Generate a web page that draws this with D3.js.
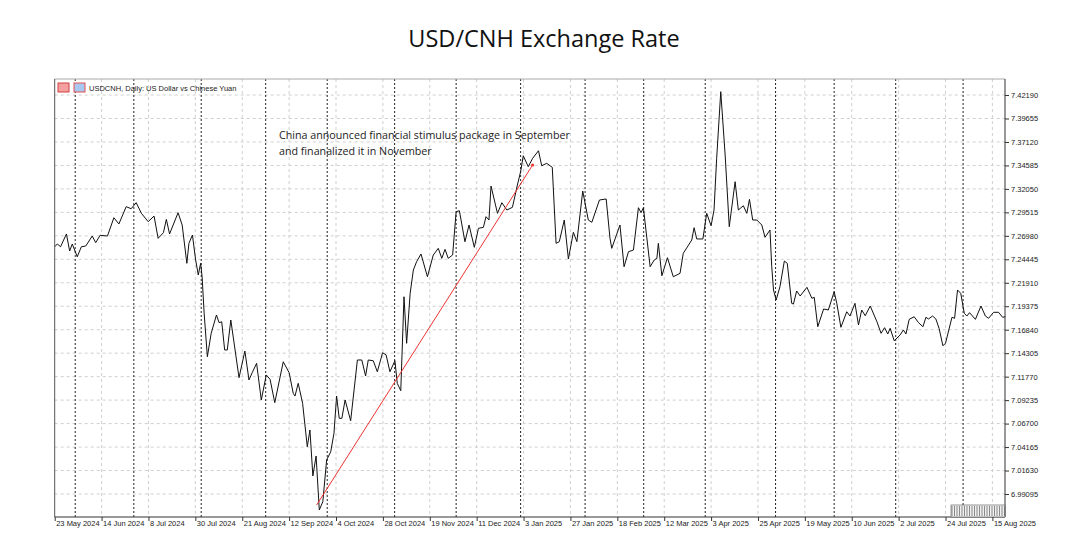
<!DOCTYPE html>
<html><head><meta charset="utf-8">
<script src="https://cdn.jsdelivr.net/npm/d3@7"></script>
<style>body{margin:0;background:#fff}svg{display:block}</style>
</head><body>
<svg id="c" width="1087" height="555"></svg>
<script>
const title = "USD/CNH Exchange Rate";
const symbolLabel = "USDCNH, Daily:  US Dollar vs Chinese Yuan";
const annotation = ["China announced financial stimulus package in September", "and finanalized it in November"];
const yTicks = [7.42190,7.39655,7.37120,7.34585,7.32050,7.29515,7.26980,7.24445,7.21910,7.19375,7.16840,7.14305,7.11770,7.09235,7.06700,7.04165,7.01630,6.99095];
const xTickLabels = ["23 May 2024","14 Jun 2024","8 Jul 2024","30 Jul 2024","21 Aug 2024","12 Sep 2024","4 Oct 2024","28 Oct 2024","19 Nov 2024","11 Dec 2024","3 Jan 2025","27 Jan 2025","18 Feb 2025","12 Mar 2025","3 Apr 2025","25 Apr 2025","19 May 2025","10 Jun 2025","2 Jul 2025","24 Jul 2025","15 Aug 2025"];
const barsPerLabel = 16;
const monthStartBars = [7,27,50,72,93,116,137,159,181,201,222,246,266,287,310];
// bar index (trading days since 23 May 2024) and close price
const bars = [0,0.9,2,4,5.1,6,7.7,9.1,10.6,12.8,14,15.5,18,20.2,21.9,24.4,26.1,27.8,29.6,31.9,33.9,35.3,37.1,38.1,39.2,42.1,43.5,45.1,45.8,47,48.1,49,49.8,50.3,51,52.1,53.4,55.2,56.1,57,58,58.9,60.1,62.9,64.9,66.3,67.4,68.9,70.5,72.2,73.5,75.1,78,80,81.4,82,83.1,84.6,86.2,87.1,88.1,89.2,90.3,91.5,92.8,94.2,95.3,96.2,97.1,98,99.1,101,103.3,104.8,106.1,107,108.7,110.1,111.9,113.1,114.4,116.1,116.9,118.1,119.2,120.1,121.3,122.4,123.5,125,127.2,129.2,130.9,132.1,133.2,134.3,135.8,137,138.1,140,141.4,143.2,144.6,146.3,147.2,148.2,148.9,151.1,152.6,154.3,156.2,157.9,159,159.9,161.6,163.1,165.1,166.2,167.9,169.8,171.1,172.2,173.9,175.3,177,178.2,180.2,182.1,183.3,185.9,188.2,189.5,190.1,192.9,194.3,195.8,197.5,199.2,200.1,200.9,203.2,204.6,205.5,206,207.2,209.1,211.1,213.4,214.5,217.4,218.2,219.1,221.2,222.5,224,225,225.9,227.3,228.8,230.2,232.2,233.3,235,236.2,237.1,238.2,239.6,241.3,242.4,244.1,244.7,245.3,246.2,247.5,249,250,251.5,252.1,253.2,254.4,256.7,258.4,259.2,260.4,262.4,264,266,266.9,268.3,270.3,271.4,273.1,274.3,275.4,276.6,278.3,280.6,282,283.2,284.3,285.1,286.5,288.5,289.6,290.5,291.6,293.3,294.8,296.3,297.3,298.2,299.6,300.7,301.8,303.1,304,306.2,307.1,308.1,309.2,310.4,311.3,312.2,314.2,316.1,317.6,318.7,320.4,322.1,323.5,324.4];
const prices = [7.2580,7.2610,7.2580,7.2718,7.2534,7.2610,7.2472,7.2580,7.2588,7.2696,7.2624,7.2704,7.2696,7.2894,7.2826,7.3013,7.2991,7.3056,7.2941,7.2851,7.2912,7.2671,7.2732,7.2876,7.2718,7.2948,7.2815,7.2401,7.2617,7.2707,7.2437,7.2275,7.2401,7.2256,7.1861,7.1392,7.1645,7.1843,7.1760,7.1770,7.1465,7.1465,7.1789,7.1166,7.1454,7.1141,7.1220,7.1321,7.0925,7.1195,7.1148,7.0896,7.1338,7.1220,7.0997,7.0968,7.1105,7.0889,7.0420,7.0601,7.0104,7.0320,6.9737,6.9826,7.0277,7.0366,7.0565,7.0968,7.0727,7.0727,7.0925,7.0701,7.1357,7.1357,7.1184,7.1357,7.1349,7.1230,7.1436,7.1411,7.1230,7.1349,7.1105,7.1025,7.2040,7.1537,7.2077,7.2329,7.2418,7.2502,7.2256,7.2491,7.2563,7.2455,7.2552,7.2455,7.2491,7.2959,7.2969,7.2634,7.2815,7.2574,7.2779,7.2790,7.2905,7.2869,7.3236,7.2941,7.3056,7.2977,7.3006,7.3247,7.3391,7.3563,7.3445,7.3535,7.3617,7.3455,7.3481,7.3438,7.2617,7.2635,7.2869,7.2448,7.2736,7.2635,7.3182,7.2869,7.2844,7.3085,7.3096,7.2671,7.2563,7.2815,7.2364,7.2526,7.2545,7.3002,7.2948,7.3002,7.2364,7.2437,7.2455,7.2617,7.2267,7.2462,7.2256,7.2293,7.2509,7.2653,7.2786,7.2664,7.2664,7.2941,7.2807,7.2977,7.3535,7.4255,7.3571,7.2797,7.3283,7.2977,7.3023,7.2941,7.3092,7.2869,7.2869,7.2815,7.2682,7.2761,7.2364,7.2113,7.2005,7.2148,7.2426,7.2401,7.1969,7.1961,7.2102,7.2048,7.2142,7.2023,7.2034,7.1716,7.1908,7.1897,7.2094,7.1969,7.1710,7.1878,7.1832,7.1969,7.1735,7.1897,7.1835,7.1940,7.1770,7.1645,7.1706,7.1638,7.1699,7.1565,7.1627,7.1681,7.1638,7.1796,7.1824,7.1760,7.1716,7.1818,7.1800,7.1832,7.1800,7.1699,7.1511,7.1537,7.1818,7.1807,7.2113,7.2077,7.1861,7.1832,7.1868,7.1796,7.1940,7.1832,7.1807,7.1872,7.1872,7.1818,7.1825];
const trendBars = [89.4, 163.1];
const trendPrices = [6.9791, 7.3463];

const svg = d3.select("#c");
const L=54.7, R=1005, T=79, B=517;
const x = d3.scaleLinear().domain([0,324.3]).range([L,R]);
const y = d3.scaleLinear().domain([6.96611,7.4392]).range([B,T]);

svg.append("text").attr("x",544).attr("y",47).attr("text-anchor","middle")
  .attr("font-family","Open Sans, sans-serif").attr("font-size",23.5).attr("fill","#111").text(title);

const g = svg.append("g");
const xTickBars = xTickLabels.map((d,i)=>i*barsPerLabel);
g.selectAll(".vg").data(xTickBars.slice(1)).join("line")
  .attr("x1",d=>x(d)).attr("x2",d=>x(d)).attr("y1",T).attr("y2",B)
  .attr("stroke","#cfcfcf").attr("stroke-dasharray","3,3");
g.selectAll(".hg").data(yTicks).join("line")
  .attr("x1",L).attr("x2",R).attr("y1",d=>y(d)).attr("y2",d=>y(d))
  .attr("stroke","#cfcfcf").attr("stroke-dasharray","3,3");
g.selectAll(".mg").data(monthStartBars).join("line")
  .attr("x1",d=>x(d)).attr("x2",d=>x(d)).attr("y1",T).attr("y2",B)
  .attr("stroke","#222").attr("stroke-dasharray","2,2").attr("stroke-width",1);

svg.append("line").attr("x1",L).attr("x2",R).attr("y1",T).attr("y2",T).attr("stroke","#aaa");
svg.append("line").attr("x1",L).attr("x2",L).attr("y1",T).attr("y2",B).attr("stroke","#555");

g.append("path").datum(bars.map((b,i)=>[b,prices[i]]))
  .attr("d",d3.line().x(d=>x(d[0])).y(d=>y(d[1])))
  .attr("fill","none").attr("stroke","#111").attr("stroke-width",1);

g.append("line").attr("x1",x(trendBars[0])).attr("y1",y(trendPrices[0]))
  .attr("x2",x(trendBars[1])).attr("y2",y(trendPrices[1]))
  .attr("stroke","#ee3333").attr("stroke-width",1);
g.append("circle").attr("cx",x(trendBars[1])).attr("cy",y(trendPrices[1])).attr("r",1.5).attr("fill","#ee3333");

annotation.forEach((t,i)=>svg.append("text").attr("x",279).attr("y",139+i*16)
  .attr("font-family","Open Sans, sans-serif").attr("font-size",10.7).attr("fill","#222").text(t));

const yAxis = d3.axisRight(y).tickValues(yTicks).tickFormat(d3.format(".5f")).tickSize(4);
svg.append("g").attr("transform",`translate(${R},0)`).call(yAxis)
  .call(a=>{a.select(".domain").attr("stroke","#333").attr("d",`M0,${T}V${B}`);
    a.selectAll("text").attr("font-family","Liberation Sans, Arial, sans-serif").attr("font-size",7.5).attr("fill","#222").attr("x",6);
    a.selectAll("line").attr("stroke","#333");});
const xAxis = d3.axisBottom(x).tickValues(xTickBars).tickFormat((d,i)=>xTickLabels[i]).tickSize(4);
svg.append("g").attr("transform",`translate(0,${B})`).call(xAxis)
  .call(a=>{a.select(".domain").attr("stroke","#333").attr("d",`M${L},0H${R}`);
    a.selectAll("text").attr("font-family","Liberation Sans, Arial, sans-serif").attr("font-size",7.5).attr("fill","#222")
      .attr("text-anchor","start").attr("dx",1).attr("y",4);
    a.selectAll("line").attr("stroke","#333");});

svg.append("rect").attr("x",58).attr("y",83).attr("width",11).attr("height",9).attr("fill","#f4a0a0").attr("stroke","#d04040");
svg.append("rect").attr("x",74).attr("y",83).attr("width",11).attr("height",9).attr("fill","#a8c8f0").attr("stroke","#e05050");
svg.append("text").attr("x",89).attr("y",91).attr("font-family","Liberation Sans, Arial, sans-serif").attr("font-size",7.5).attr("fill","#222").text(symbolLabel);

const pg = svg.append("g");
pg.append("rect").attr("x",951).attr("y",505).attr("width",54).attr("height",12).attr("fill","#f0f0f0").attr("stroke","#555").attr("stroke-width",0.6);
pg.selectAll("line").data(d3.range(0,54,2.5)).join("line")
  .attr("x1",d=>952+d).attr("x2",d=>952+d).attr("y1",506).attr("y2",516).attr("stroke","#444").attr("stroke-width",0.6);
</script>
</body></html>
